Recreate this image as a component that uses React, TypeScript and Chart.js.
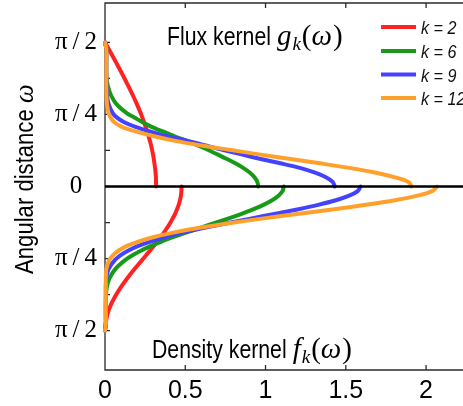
import React, { useEffect, useRef } from 'react';
import { Chart, registerables } from 'chart.js';

Chart.register(...registerables);

// Angular distance samples (radians), shared by every curve
const OMEGA = [0, 0.05, 0.1, 0.15, 0.2, 0.25, 0.3, 0.35, 0.4, 0.45, 0.5, 0.55, 0.6, 0.65, 0.7, 0.75, 0.8, 0.9, 1.0, 1.1, 1.2, 1.3, 1.4, 1.5, 1.5708];

// Flux kernel g_k(ω) (upper half)
const FLUX_K2 = [0.318, 0.318, 0.317, 0.315, 0.312, 0.308, 0.304, 0.299, 0.293, 0.287, 0.279, 0.271, 0.263, 0.253, 0.243, 0.233, 0.222, 0.198, 0.172, 0.144, 0.115, 0.085, 0.054, 0.023, 0];
const FLUX_K6 = [0.955, 0.949, 0.931, 0.903, 0.863, 0.815, 0.76, 0.70, 0.64, 0.575, 0.505, 0.43, 0.36, 0.29, 0.235, 0.185, 0.135, 0.07, 0.036, 0.017, 0.009, 0.008, 0.008, 0.008, 0];
const FLUX_K9 = [1.432, 1.418, 1.376, 1.309, 1.219, 1.10, 0.97, 0.85, 0.73, 0.62, 0.51, 0.38, 0.28, 0.19, 0.12, 0.075, 0.048, 0.022, 0.012, 0.009, 0.008, 0.008, 0.008, 0.008, 0];
const FLUX_K12 = [1.91, 1.89, 1.807, 1.687, 1.531, 1.349, 1.155, 0.96, 0.775, 0.59, 0.43, 0.30, 0.19, 0.105, 0.058, 0.035, 0.022, 0.012, 0.009, 0.008, 0.008, 0.008, 0.008, 0.008, 0];

// Density kernel f_k(ω) (lower half)
const DENS_K2 = [0.477, 0.476, 0.473, 0.467, 0.459, 0.448, 0.436, 0.421, 0.405, 0.387, 0.368, 0.347, 0.325, 0.303, 0.279, 0.256, 0.232, 0.184, 0.139, 0.098, 0.063, 0.034, 0.014, 0.004, 0];
const DENS_K6 = [1.114, 1.106, 1.081, 1.041, 0.987, 0.922, 0.847, 0.766, 0.68, 0.594, 0.509, 0.428, 0.352, 0.284, 0.223, 0.171, 0.127, 0.064, 0.028, 0.011, 0.006, 0.005, 0.005, 0.005, 0];
const DENS_K9 = [1.592, 1.574, 1.521, 1.438, 1.328, 1.198, 1.055, 0.906, 0.759, 0.619, 0.491, 0.379, 0.283, 0.204, 0.143, 0.096, 0.062, 0.022, 0.008, 0.005, 0.005, 0.005, 0.005, 0.005, 0];
const DENS_K12 = [2.069, 2.038, 1.948, 1.807, 1.625, 1.416, 1.196, 0.977, 0.771, 0.588, 0.432, 0.305, 0.207, 0.134, 0.083, 0.049, 0.027, 0.008, 0.005, 0.005, 0.005, 0.005, 0.005, 0.005, 0];

const SERIES_LABELS = ['k = 2', 'k = 6', 'k = 9', 'k = 12'];
const SERIES_COLORS = ['#ff2222', '#179a17', '#4242ff', '#ffa02a'];

const X_TICK_VALUES = [0, 0.5, 1, 1.5, 2];
const X_TICK_LABELS = ['0', '0.5', '1', '1.5', '2'];
const Y_TICK_VALUES = [-Math.PI / 2, -Math.PI / 4, 0, Math.PI / 4, Math.PI / 2];
const Y_TICK_LABELS = ['π/2', 'π/4', '0', 'π/4', 'π/2'];
const Y_MINOR_TICKS = [-3 * Math.PI / 8, -Math.PI / 8, Math.PI / 8, 3 * Math.PI / 8];

const Y_TITLE = 'Angular distance ';
const Y_TITLE_SYMBOL = 'ω';
const FLUX_TITLE = 'Flux kernel';
const DENS_TITLE = 'Density kernel';

const SANS = '"Liberation Sans", Arial, sans-serif';
const SERIF = '"Liberation Serif", "Times New Roman", serif';
const NARROW = 0.85;

function drawNarrow(ctx: CanvasRenderingContext2D, text: string, x: number, y: number, font: string) {
  ctx.save();
  ctx.font = font;
  ctx.translate(x, y);
  ctx.scale(NARROW, 1);
  ctx.fillText(text, 0, 0);
  const w = ctx.measureText(text).width * NARROW;
  ctx.restore();
  return w;
}

function drawMath(ctx: CanvasRenderingContext2D, x: number, base: number, letter: string) {
  ctx.save();
  ctx.textBaseline = 'alphabetic';
  ctx.textAlign = 'left';
  ctx.font = `italic 29px ${SERIF}`;
  ctx.fillText(letter, x, base);
  x += ctx.measureText(letter).width + 1;
  ctx.font = `italic 19px ${SERIF}`;
  ctx.fillText('k', x, base + 5);
  x += ctx.measureText('k').width + 1;
  ctx.font = `29px ${SERIF}`;
  ctx.fillText('(', x, base);
  x += ctx.measureText('(').width;
  ctx.font = `italic 29px ${SERIF}`;
  ctx.fillText('ω', x, base);
  x += ctx.measureText('ω').width + 1;
  ctx.font = `29px ${SERIF}`;
  ctx.fillText(')', x, base);
  ctx.restore();
}

const decorPlugin = {
  id: 'decor',
  beforeDatasetsDraw(chart: any) {
    const { ctx, chartArea: a, scales } = chart;
    const xs = scales.x;
    const ys = scales.y;
    ctx.save();
    ctx.strokeStyle = '#2a2a2a';
    ctx.lineWidth = 1.3;
    ctx.beginPath();
    ctx.moveTo(a.right + 2, a.top);
    ctx.lineTo(a.left, a.top);
    ctx.lineTo(a.left, a.bottom);
    ctx.lineTo(a.right + 2, a.bottom);
    ctx.stroke();
    const T = 5;
    ctx.beginPath();
    X_TICK_VALUES.forEach((v) => {
      if (v === 0) return;
      const px = xs.getPixelForValue(v);
      ctx.moveTo(px, a.bottom);
      ctx.lineTo(px, a.bottom - T);
      ctx.moveTo(px, a.top);
      ctx.lineTo(px, a.top + T);
    });
    [...Y_TICK_VALUES, ...Y_MINOR_TICKS].forEach((v) => {
      const py = ys.getPixelForValue(v);
      ctx.moveTo(a.left, py);
      ctx.lineTo(a.left + T, py);
    });
    ctx.stroke();
    ctx.restore();
  },
  afterDatasetsDraw(chart: any) {
    const { ctx, chartArea: a, scales } = chart;
    const y0 = scales.y.getPixelForValue(0);
    ctx.save();
    ctx.strokeStyle = '#000';
    ctx.lineWidth = 2.6;
    ctx.beginPath();
    ctx.moveTo(a.left, y0);
    ctx.lineTo(a.right + 2, y0);
    ctx.stroke();

    ctx.fillStyle = '#000';
    ctx.textBaseline = 'alphabetic';
    ctx.textAlign = 'left';

    // panel titles
    const wf = drawNarrow(ctx, FLUX_TITLE, 167, 45, `25px ${SANS}`);
    drawMath(ctx, 167 + wf + 6, 45, 'g');
    const wd = drawNarrow(ctx, DENS_TITLE, 152, 358, `25px ${SANS}`);
    drawMath(ctx, 152 + wd + 6, 358, 'f');

    // y title
    ctx.save();
    ctx.font = `26px ${SANS}`;
    const w1 = ctx.measureText(Y_TITLE).width * NARROW;
    ctx.font = `italic 27px ${SERIF}`;
    const w2 = ctx.measureText(Y_TITLE_SYMBOL).width;
    const total = w1 + w2;
    ctx.translate(33, 179);
    ctx.rotate(-Math.PI / 2);
    drawNarrow(ctx, Y_TITLE, -total / 2, 0, `26px ${SANS}`);
    ctx.font = `italic 27px ${SERIF}`;
    ctx.fillText(Y_TITLE_SYMBOL, -total / 2 + w1, 0);
    ctx.restore();

    // legend
    const rows = [27, 51, 74.5, 98];
    SERIES_LABELS.forEach((label, i) => {
      const y = rows[i];
      ctx.strokeStyle = SERIES_COLORS[i];
      ctx.lineWidth = 4;
      ctx.beginPath();
      ctx.moveTo(381, y);
      ctx.lineTo(416, y);
      ctx.stroke();
      ctx.fillStyle = '#111';
      drawNarrow(ctx, label, 421, y + 7, `italic 19px ${SANS}`);
    });
    ctx.restore();
  },
};

export default function App() {
  const ref = useRef<HTMLCanvasElement | null>(null);

  useEffect(() => {
    if (!ref.current) return;
    const flux = [FLUX_K2, FLUX_K6, FLUX_K9, FLUX_K12];
    const dens = [DENS_K2, DENS_K6, DENS_K9, DENS_K12];
    const datasets: any[] = [];
    SERIES_LABELS.forEach((label, i) => {
      const common = {
        label,
        borderColor: SERIES_COLORS[i],
        backgroundColor: SERIES_COLORS[i],
        borderWidth: 4,
        pointRadius: 0,
        showLine: true,
        fill: false,
        tension: 0.3,
        clip: false,
        order: 4 - i,
        borderCapStyle: 'round',
      };
      datasets.push({ ...common, data: OMEGA.map((w, j) => ({ x: flux[i][j], y: w })).reverse() });
      datasets.push({ ...common, data: OMEGA.map((w, j) => ({ x: dens[i][j], y: -w })) });
    });

    const chart = new Chart(ref.current, {
      type: 'scatter',
      data: { datasets },
      options: {
        animation: false,
        responsive: false,
        maintainAspectRatio: false,
        devicePixelRatio: 1,
        layout: { padding: { top: 3, right: 0, left: 0, bottom: 0 } },
        plugins: { legend: { display: false }, tooltip: { enabled: false } },
        scales: {
          x: {
            type: 'linear',
            min: 0,
            max: 2.23,
            grid: { display: false, drawTicks: false },
            border: { display: false },
            ticks: {
              color: '#000',
              font: { family: SANS, size: 25 },
              padding: 6,
              maxRotation: 0,
              autoSkip: false,
              callback: (_v: any, i: number) => X_TICK_LABELS[i],
            },
            afterBuildTicks: (s: any) => { s.ticks = X_TICK_VALUES.map((v) => ({ value: v })); },
            afterFit: (s: any) => { s.height = 36; s.paddingLeft = 0; s.paddingRight = 0; },
          },
          y: {
            type: 'linear',
            min: -2,
            max: 2,
            grid: { display: false, drawTicks: false },
            border: { display: false },
            ticks: {
              color: '#000',
              font: { family: SERIF, size: 25 },
              padding: 8,
              crossAlign: 'center',
              autoSkip: false,
              callback: (_v: any, i: number) => Y_TICK_LABELS[i].replace('/', '\u2009/\u2009'),
            },
            afterBuildTicks: (s: any) => { s.ticks = Y_TICK_VALUES.map((v) => ({ value: v })); },
            afterFit: (s: any) => { s.width = 105; s.paddingTop = 0; s.paddingBottom = 0; },
          },
        },
      },
      plugins: [decorPlugin],
    } as any);
    return () => chart.destroy();
  }, []);

  return (
    <div style={{ position: 'fixed', left: 0, top: 0, width: 463, height: 406, background: '#fff' }}>
      <canvas ref={ref} width={463} height={406} style={{ display: 'block' }} />
    </div>
  );
}
